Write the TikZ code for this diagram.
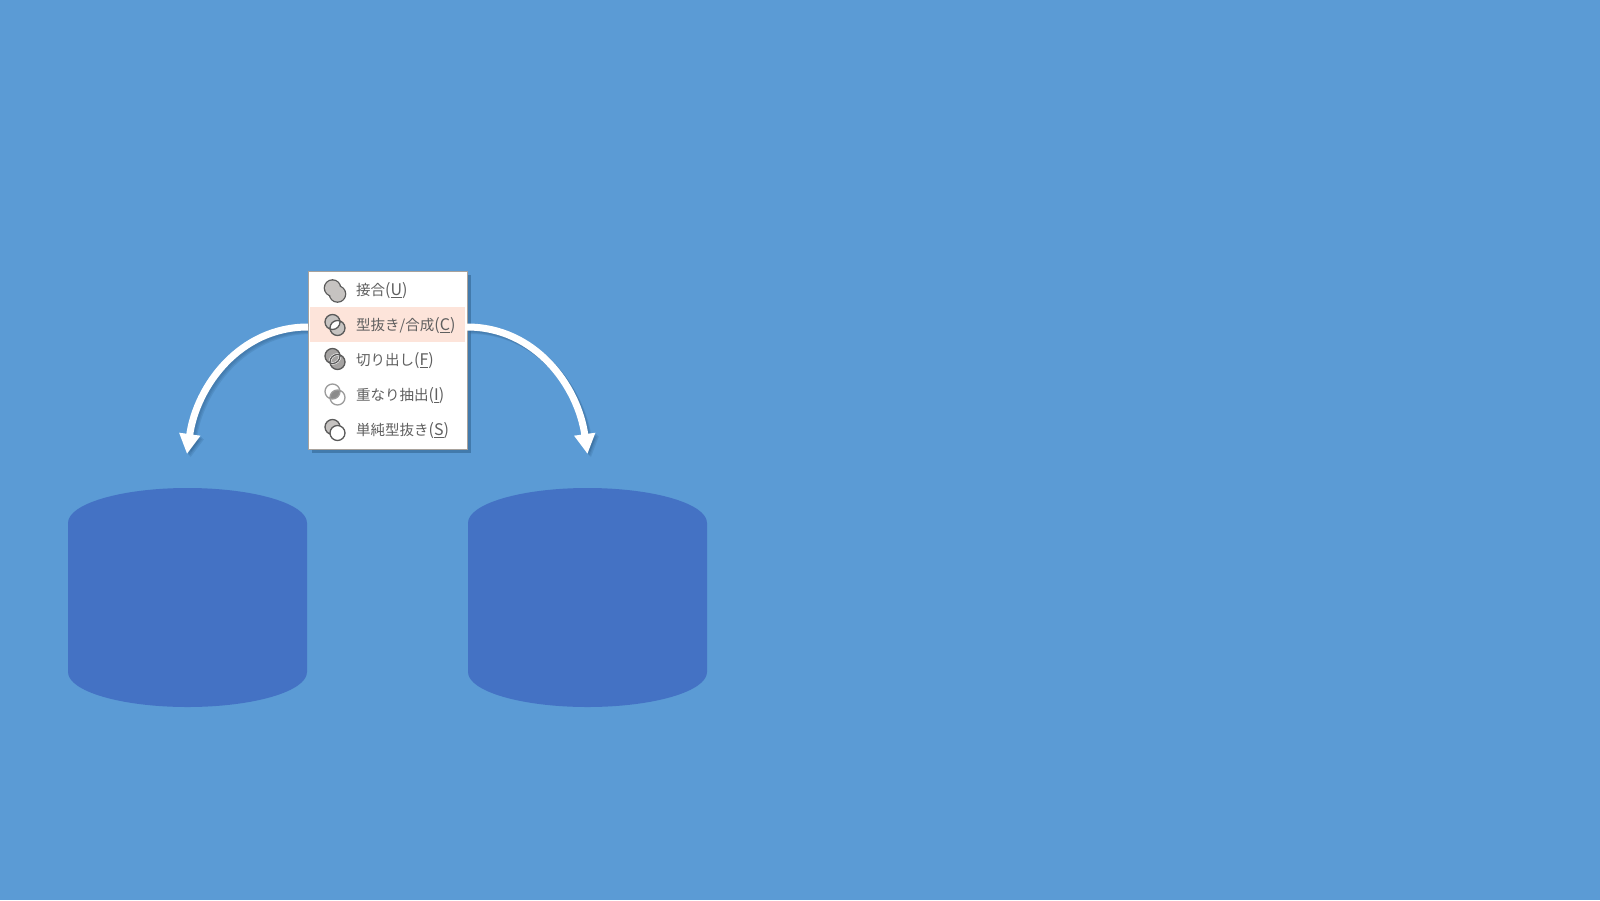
\documentclass[tikz,border=0pt]{standalone}
\usepackage{fontspec}
\setmainfont{Noto Sans CJK JP}
\usetikzlibrary{shadows,arrows.meta,backgrounds}
\definecolor{slidebg}{HTML}{5B9BD5}
\definecolor{drumblue}{HTML}{4472C4}
\definecolor{menuhi}{HTML}{FDE4DA}
\definecolor{menutext}{HTML}{5F5F5F}
\definecolor{menuedge}{HTML}{A8A29C}
\definecolor{iconfill}{HTML}{C6C3C1}
\definecolor{iconline}{HTML}{5A5A5A}
\definecolor{shadowblue}{HTML}{2F5F8C}
\newcommand{\menukey}[1]{{\fontsize{16}{16}\selectfont(\underline{#1})}}
\tikzset{
  drum/.pic={\fill[drumblue] (-119.5,-74.5) arc[start angle=180,end angle=360,x radius=119.5,y radius=35]
    -- (119.5,74.5) arc[start angle=0,end angle=180,x radius=119.5,y radius=35] -- cycle;},
  menubox/.style={fill=white,draw=menuedge,line width=1pt,minimum width=159pt,
    minimum height=178pt,outer sep=0pt,inner sep=0pt,
    drop shadow={shadow xshift=3.5pt,shadow yshift=-3.5pt,draw=none,fill=shadowblue,opacity=.55}},
  menuhibar/.style={fill=menuhi,minimum width=155pt,minimum height=35pt,inner sep=0pt},
  menuitem/.style={text=menutext,font=\fontsize{14.5}{16}\selectfont,inner sep=0pt,anchor=west},
  bendarrow/.style={white,line width=7pt,-{Triangle[length=20pt,width=20pt]}},
  bendshadow/.style={shadowblue,opacity=.2,line width=7pt,-{Triangle[length=20pt,width=20pt]}},
  iconedge/.style={draw=iconline,line width=1.3pt},
}
\begin{document}
\begin{tikzpicture}[x=1pt,y=-1pt]
  \useasboundingbox (0,0) rectangle (1600,900);

  \node[menubox] (menu) at (387.5,360) {};
  \coordinate (tipL) at (187,454);
  \coordinate (tipR) at (587.5,454);
  \coordinate (startL) at (menu.west |- 0,327);
  \coordinate (startR) at (menu.east |- 0,327);

  \begin{scope}[on background layer]
    \fill[slidebg] (0,0) rectangle (1600,900);
    \pic (drumL) at (187.5,597.5) {drum};
    \pic (drumR) at (587.5,597.5) {drum};
    % shadows of the arrows first
    \foreach \off in {3.5,2.5,1.5} {
      \begin{scope}[transform canvas={xshift=\off pt,yshift=-\off pt}]
        \draw[bendshadow] (startL) to[out=180,in=82] (tipL);
        \draw[bendshadow] (startR) to[out=0,in=98] (tipR);
      \end{scope}
    }
  \end{scope}
  \draw[bendarrow] (startL) to[out=180,in=82] (tipL);
  \draw[bendarrow] (startR) to[out=0,in=98] (tipR);

  \node[menuhibar] (hibar) at (387.5,324.5) {};

  \node[menuitem] (item1) at (356,291) {接合\menukey{U}};
  \node[menuitem] (item2) at (356,326) {型抜き/合成\menukey{C}};
  \node[menuitem] (item3) at (356,361) {切り出し\menukey{F}};
  \node[menuitem] (item4) at (356,395.5) {重なり抽出\menukey{I}};
  \node[menuitem] (item5) at (356,430.5) {単純型抜き\menukey{S}};

  % union
  \draw[iconedge,line width=2.6pt] (332.5,288) circle (7.5pt) (337.5,294) circle (7.5pt);
  \fill[iconfill] (332.5,288) circle (7.5pt) (337.5,294) circle (7.5pt);
  % combine
  \fill[iconfill] (332.5,322) circle (7.5pt) (337.5,328) circle (7.5pt);
  \begin{scope}
    \clip (332.5,322) circle (7.5pt);
    \fill[white] (337.5,328) circle (7.5pt);
  \end{scope}
  \draw[iconedge] (332.5,322) circle (7.5pt) (337.5,328) circle (7.5pt);
  % fragment
  \fill[iconfill!70!iconline] (332.5,356) circle (7.5pt) (337.5,362) circle (7.5pt);
  \begin{scope}
    \clip (332.5,356) circle (7.5pt);
    \draw[white,line width=2.4pt] (337.5,362) circle (7.5pt);
  \end{scope}
  \begin{scope}
    \clip (337.5,362) circle (7.5pt);
    \draw[white,line width=2.4pt] (332.5,356) circle (7.5pt);
  \end{scope}
  \draw[iconedge] (332.5,356) circle (7.5pt) (337.5,362) circle (7.5pt);
  % intersect
  \begin{scope}
    \clip (332.5,391.5) circle (7.5pt);
    \fill[iconline!70] (337.5,397.5) circle (7.5pt);
  \end{scope}
  \draw[iconedge,draw=iconline!60] (332.5,391.5) circle (7.5pt) (337.5,397.5) circle (7.5pt);
  % subtract
  \fill[iconfill] (332.5,427) circle (7.5pt);
  \draw[iconedge] (332.5,427) circle (7.5pt);
  \draw[iconedge,fill=white] (337.5,433) circle (7.5pt);
\end{tikzpicture}
\end{document}
